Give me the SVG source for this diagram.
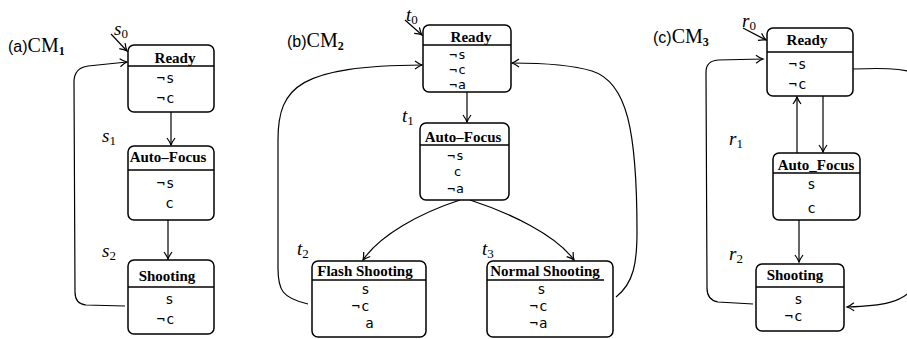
<svg xmlns="http://www.w3.org/2000/svg" width="907" height="339" viewBox="0 0 907 339">
<style>
.box{fill:#fff;stroke:#000;stroke-width:1.5}
.hl{stroke:#000;stroke-width:1.3}
.ttl{font-family:"Liberation Serif",serif;font-weight:bold;font-size:15px;text-anchor:middle}
.v{font-family:"DejaVu Sans Mono",monospace;font-size:14px;text-anchor:middle;letter-spacing:1px}
.vs{font-size:13px}
.lab{font-family:"Liberation Serif",serif;font-style:italic;font-size:19px}
.sub{font-family:"Liberation Serif",serif;font-style:normal;font-size:13px}
.pn{font-family:"Liberation Sans",sans-serif;font-size:16px}
.cm{font-family:"Liberation Serif",serif;font-size:20px}
.cms{font-family:"Liberation Serif",serif;font-weight:bold;font-size:12px}
.e{fill:none;stroke:#000;stroke-width:1.2;marker-end:url(#arr)}
</style>
<defs>
<marker id="arr" markerWidth="12" markerHeight="12" refX="9" refY="6" orient="auto" markerUnits="userSpaceOnUse">
<path d="M2,2 Q6,5 9,6 Q6,7 2,10" fill="none" stroke="#000" stroke-width="1.2"/>
</marker>
</defs>
<rect width="907" height="339" fill="#fff"/>

<!-- panel titles -->
<text x="8" y="52"><tspan class="pn">(a)</tspan><tspan class="cm">CM</tspan><tspan class="cms" dy="3">1</tspan></text>
<text x="287" y="47"><tspan class="pn">(b)</tspan><tspan class="cm">CM</tspan><tspan class="cms" dy="3">2</tspan></text>
<text x="653" y="43"><tspan class="pn">(c)</tspan><tspan class="cm">CM</tspan><tspan class="cms" dy="3">3</tspan></text>

<!-- transition labels -->
<text class="lab" x="114" y="35">s<tspan class="sub" dy="3">0</tspan></text>
<text class="lab" x="102" y="142">s<tspan class="sub" dy="3">1</tspan></text>
<text class="lab" x="102" y="257">s<tspan class="sub" dy="3">2</tspan></text>
<text class="lab" x="406" y="21">t<tspan class="sub" dy="3">0</tspan></text>
<text class="lab" x="402" y="122">t<tspan class="sub" dy="3">1</tspan></text>
<text class="lab" x="297" y="255">t<tspan class="sub" dy="3">2</tspan></text>
<text class="lab" x="482" y="255">t<tspan class="sub" dy="3">3</tspan></text>
<text class="lab" x="742" y="27">r<tspan class="sub" dy="3">0</tspan></text>
<text class="lab" x="729" y="145">r<tspan class="sub" dy="3">1</tspan></text>
<text class="lab" x="729" y="260">r<tspan class="sub" dy="3">2</tspan></text>

<!-- connectors -->
<g id="connectors">
<path class="e" d="M111,34 L127,51"/>
<path class="e" d="M171,112 L171,145"/>
<path class="e" d="M168,220 L168,259"/>
<path class="e" d="M125,306 L86,305 Q75,304 75,292 L74,82 Q74,68 88,66 L127,62"/>

<path class="e" d="M405,20 L422,35"/>
<path class="e" d="M467,92 L467,122"/>
<path class="e" d="M460,200 C420,213 380,235 363,260"/>
<path class="e" d="M470,200 C510,213 556,235 574,260"/>
<path class="e" d="M308,304 C282,298 278,290 278,268 L278,140 C278,86 300,66 422,65"/>
<path class="e" d="M616,297 C634,283 637,262 637,232 C637,130 627,82 592,71 C572,65 545,63 512,63"/>

<path class="e" d="M743,28 L766,40"/>
<path class="e" d="M823,96 L823,152"/>
<path class="e" d="M797,153 L797,97"/>
<path class="e" d="M799,220 L799,262"/>
<path class="e" d="M753,304 L718,302 Q707,300 707,288 L706,72 Q706,61 718,60 L763,59"/>
<path class="e" d="M853,69 C880,68 900,68 915,73 L925,200 L915,285 C905,303 880,306 847,307"/>
</g>

<!-- panel a nodes -->
<g id="a_ready">
<rect class="box" x="128" y="45" width="86" height="67" rx="6"/>
<line class="hl" x1="128" y1="66" x2="214" y2="66"/>
<text class="ttl" x="175" y="63">Ready</text>
<text class="v" x="166" y="83">¬s</text>
<text class="v" x="166" y="103">¬c</text>
</g>
<g id="a_autofocus">
<rect class="box" x="128" y="146" width="86" height="74" rx="6"/>
<line class="hl" x1="128" y1="170" x2="214" y2="170"/>
<text class="ttl" x="168" y="162">Auto–Focus</text>
<text class="v" x="166" y="188">¬s</text>
<text class="v" x="170" y="208">c</text>
</g>
<g id="a_shooting">
<rect class="box" x="128" y="260" width="86" height="74" rx="6"/>
<line class="hl" x1="128" y1="287" x2="214" y2="287"/>
<text class="ttl" x="167" y="281">Shooting</text>
<text class="v" x="170" y="304">s</text>
<text class="v" x="166" y="324">¬c</text>
</g>

<!-- panel b nodes -->
<g id="b_ready">
<rect class="box" x="423" y="25" width="88" height="67" rx="6"/>
<line class="hl" x1="423" y1="45" x2="511" y2="45"/>
<text class="ttl" x="471" y="42">Ready</text>
<text class="v vs" x="458" y="59">¬s</text>
<text class="v vs" x="458" y="74">¬c</text>
<text class="v vs" x="458" y="89">¬a</text>
</g>
<g id="b_autofocus">
<rect class="box" x="420" y="123" width="89" height="77" rx="6"/>
<line class="hl" x1="420" y1="145" x2="509" y2="145"/>
<text class="ttl" x="463" y="142">Auto–Focus</text>
<text class="v vs" x="456" y="160">¬s</text>
<text class="v vs" x="458" y="176">c</text>
<text class="v vs" x="456" y="193">¬a</text>
</g>
<g id="b_flash">
<rect class="box" x="312" y="261" width="114" height="76" rx="6"/>
<line class="hl" x1="312" y1="280" x2="426" y2="280"/>
<text class="ttl" x="365" y="276">Flash Shooting</text>
<text class="v" x="366" y="294">s</text>
<text class="v" x="361" y="311">¬c</text>
<text class="v" x="370" y="328">a</text>
</g>
<g id="b_normal">
<rect class="box" x="487" y="261" width="126" height="76" rx="6"/>
<line class="hl" x1="487" y1="280" x2="604" y2="280"/>
<text class="ttl" x="545" y="276">Normal Shooting</text>
<text class="v" x="542" y="294">s</text>
<text class="v" x="539" y="311">¬c</text>
<text class="v" x="539" y="328">¬a</text>
</g>

<!-- panel c nodes -->
<g id="c_ready">
<rect class="box" x="767" y="28" width="86" height="68" rx="6"/>
<line class="hl" x1="767" y1="52" x2="853" y2="52"/>
<text class="ttl" x="807" y="45">Ready</text>
<text class="v" x="798" y="69">¬s</text>
<text class="v" x="798" y="89">¬c</text>
</g>
<g id="c_autofocus">
<rect class="box" x="773" y="153" width="87" height="67" rx="6"/>
<line class="hl" x1="773" y1="173" x2="860" y2="173"/>
<text class="ttl" x="816" y="170">Auto_Focus</text>
<text class="v" x="812" y="189">s</text>
<text class="v" x="812" y="213">c</text>
</g>
<g id="c_shooting">
<rect class="box" x="756" y="264" width="88" height="67" rx="6"/>
<line class="hl" x1="756" y1="287" x2="844" y2="287"/>
<text class="ttl" x="795" y="280">Shooting</text>
<text class="v" x="799" y="304">s</text>
<text class="v" x="794" y="321">¬c</text>
</g>
</svg>
